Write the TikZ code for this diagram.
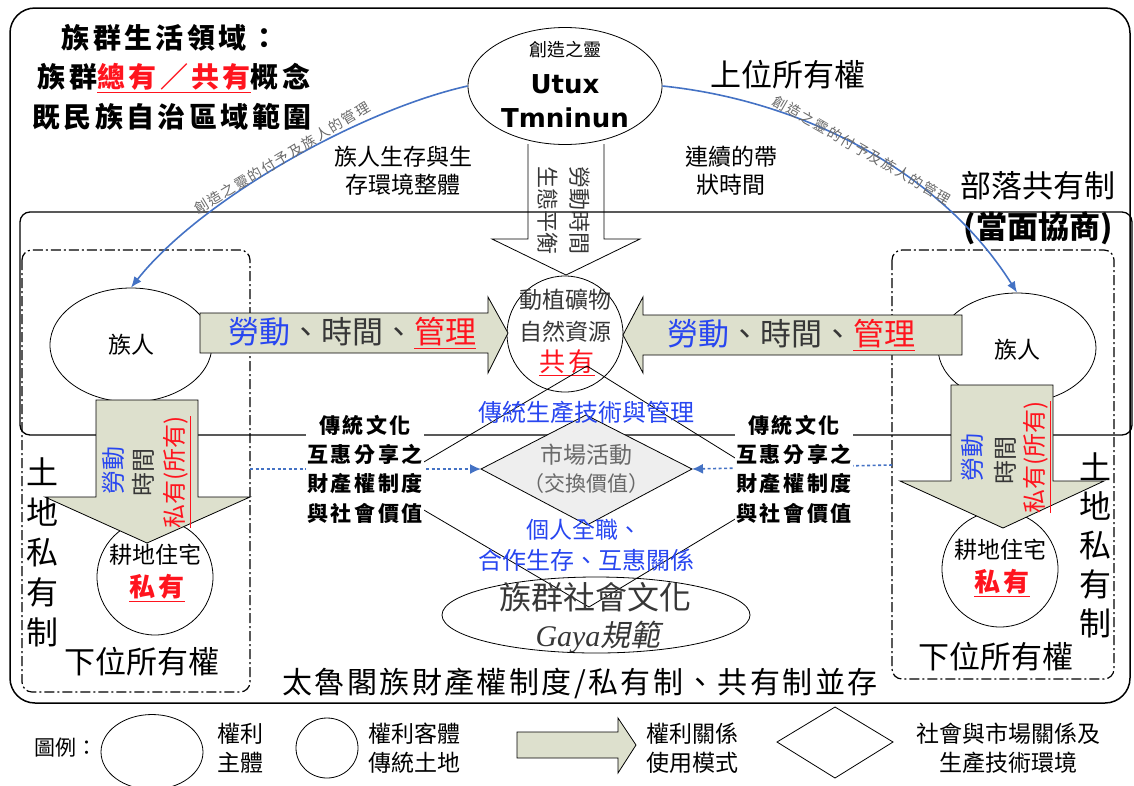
\documentclass[tikz,border=0pt]{standalone}
\usepackage{fontspec}
\setmainfont{Noto Sans CJK TC}
\newfontfamily\cjksp[LetterSpace=12]{Noto Sans CJK TC}
\newfontfamily\cjkspb[LetterSpace=8]{Noto Sans CJK TC}
\newfontfamily\cjksl[FakeSlant=0.2]{Noto Sans CJK TC}
\newfontfamily\dvs{DejaVu Sans}
\newfontfamily\lserif{Liberation Serif}
\usetikzlibrary{arrows.meta,shapes.geometric}
\definecolor{afill}{RGB}{221,224,205}
\definecolor{tblue}{RGB}{40,70,240}
\definecolor{tred}{RGB}{255,20,30}
\definecolor{arcblue}{RGB}{68,114,196}
\definecolor{lgray}{RGB}{105,105,105}
\definecolor{dgray}{RGB}{55,55,55}
\newcommand\fsz[2]{\fontsize{#1}{#2}\selectfont}
\tikzset{
  txt/.style={inner sep=0pt},
  blk/.style={fill=afill, draw=black, line width=0.8pt},
  ddbox/.style={dash pattern=on 10pt off 3pt on 2pt off 3pt, line width=1.2pt, rounded corners=10pt},
  ell/.style={draw, ellipse, inner sep=0pt, line width=0.8pt},
  circ/.style={draw, circle, inner sep=0pt, line width=0.8pt},
  arc/.style={arcblue, line width=1.6pt, -{Latex[length=11pt,width=9pt]}},
  dotarr/.style={arcblue, line width=1.6pt, dash pattern=on 3pt off 2.5pt, -{Latex[length=11pt,width=10pt]}},
  arclab/.style={lgray, inner sep=0pt, font=\cjksp\fsz{14}{16}},
  tblock/.style={fill=white, align=center, inner sep=1pt, font=\cjksp\bfseries\fsz{21}{29.3}},
  legtxt/.style={align=center, inner sep=0pt, font=\fsz{23}{29}}
}
\begin{document}
\begin{tikzpicture}[x=1pt,y=-1pt,line join=miter]
\useasboundingbox (0,0) rectangle (1134,785);
% frames
\draw[line width=1.5pt, rounded corners=25pt] (10,8) rectangle (1130,703);
\draw[line width=1.3pt, rounded corners=10pt] (20,212) rectangle (1132,435);
\draw[ddbox] (22,250) rectangle (250,692);
\draw[ddbox] (892,250) rectangle (1114,679);

% title
\node[txt, font=\cjksp\bfseries\fsz{28}{34}] (t1) at (170,38) {族群生活領域：};
\node[txt, font=\cjksp\bfseries\fsz{28}{34}] (t2) at (174,78) {族群\textcolor{tred}{\underline{總有／共有}}概念};
\node[txt, font=\cjksp\bfseries\fsz{28}{34}] (t3) at (172,117) {既民族自治區域範圍};

% top ellipse
\node[ell, minimum width=194pt, minimum height=117pt] (utux) at (565,86) {};
\node[txt, font=\fsz{18}{20}] (cz) at (565,50) {創造之靈};
\node[txt, font=\dvs\bfseries\fsz{26}{28}] (ut) at (565,84) {Utux};
\node[txt, font=\dvs\bfseries\fsz{26}{28}] (tm) at (565,118) {Tmninun};

\node[txt, font=\fsz{31}{34}] (sw) at (788,75) {上位所有權};
\node[txt, align=center, font=\fsz{23}{28}] (env) at (403,171) {族人生存與生\\存環境整體};
\node[txt, align=center, font=\fsz{23}{28}] (tim) at (731,171) {連續的帶\\狀時間};
\node[txt, font=\fsz{31}{34}] (bl1) at (1038,186) {部落共有制};
\node[txt, font=\bfseries\fsz{31}{34}] (bl2) at (1038,228) {(當面協商)};

% central down arrow
\draw[line width=0.8pt] (528,144) -- (528,239) -- (492,239) -- (566,275) -- (640,239) -- (604,239) -- (604,144);
\node[txt, dgray, rotate=-90, align=center, font=\fsz{22}{32}] (cat) at (564,210) {勞動時間\\生態平衡};

% resources circle
\node[circ, minimum size=116pt] (res) at (565,334) {};
\node[txt, dgray, font=\fsz{23}{26}] (r1) at (565,300) {動植礦物};
\node[txt, dgray, font=\fsz{23}{26}] (r2) at (565,332) {自然資源};
\node[txt, tred, font=\cjksp\fsz{26}{28}] (r3) at (567,363) {\underline{共有}};

% people ellipses
\node[ell, minimum width=162pt, minimum height=114pt] (zuL) at (131,345) {};
\node[txt, font=\fsz{23}{26}] at (131,345) {族人};
\node[ell, minimum width=158pt, minimum height=110pt] (zuR) at (1017,348) {};
\node[txt, font=\fsz{23}{26}] at (1017,350) {族人};

% farm circles
\node[circ, minimum size=116pt] (farmL) at (155,577) {};
\node[circ, minimum size=116pt] (farmR) at (1000,569) {};

% horizontal arrows
\draw[blk] (200,313) -- (488,313) -- (488,297) -- (508,333) -- (488,373) -- (488,353) -- (200,353) -- cycle;
\draw[blk] (962,315) -- (643,315) -- (643,297) -- (623,335) -- (643,373) -- (643,355) -- (962,355) -- cycle;
\node[txt, font=\fsz{31}{34}] (hl) at (352,333) {\textcolor{tblue}{勞動}\textcolor{dgray}{、時間、}\textcolor{tred}{\underline{管理}}};
\node[txt, font=\fsz{31}{34}] (hr) at (791,335) {\textcolor{tblue}{勞動}\textcolor{dgray}{、時間、}\textcolor{tred}{\underline{管理}}};

% down arrows
\draw[blk] (96,400) -- (198,400) -- (198,497) -- (250,497) -- (147,543) -- (45,497) -- (96,497) -- cycle;
\draw[blk] (951,385) -- (1053,385) -- (1053,481) -- (1104,481) -- (1003,528) -- (900,481) -- (951,481) -- cycle;
\node[txt, tblue, rotate=90, font=\fsz{24}{26}] at (113,470) {勞動};
\node[txt, dgray, rotate=90, font=\fsz{24}{26}] at (143,472) {時間};
\node[txt, tred, rotate=90, font=\fsz{24}{26}] at (177,472) {\underline{私有(所有)}};
\node[txt, tblue, rotate=90, font=\fsz{24}{26}] at (972,457) {勞動};
\node[txt, dgray, rotate=90, font=\fsz{24}{26}] at (1005,460) {時間};
\node[txt, tred, rotate=90, font=\fsz{24}{26}] at (1037,457) {\underline{私有(所有)}};

% farm texts
\node[txt, font=\fsz{23}{26}] at (155,555) {耕地住宅};
\node[txt, tred, font=\cjksp\bfseries\fsz{26}{28}] at (157,588) {\underline{私有}};
\node[txt, font=\fsz{23}{26}] at (1000,550) {耕地住宅};
\node[txt, tred, font=\cjksp\bfseries\fsz{26}{28}] at (1002,583) {\underline{私有}};

% land private
\node[txt, align=center, font=\fsz{32}{40}] (lpL) at (42,552) {土\\地\\私\\有\\制};
\node[txt, align=center, font=\fsz{32}{39}] (lpR) at (1095,545) {土\\地\\私\\有\\制};
\node[txt, font=\fsz{31}{34}] (lowL) at (142,662) {下位所有權};
\node[txt, font=\fsz{31}{34}] (lowR) at (996,657) {下位所有權};

% blue arcs
\draw[arc] (utux.west) .. controls (360,110) and (200,200) .. (zuL.north);
\draw[arc] (utux.east) .. controls (800,100) and (940,170) .. (zuR.north);
\node[arclab, rotate=31] (al) at (282,158) {創造之靈的付予及族人的管理};
\node[arclab, rotate=-30] (ar) at (862,150) {創造之靈的付予及族人的管理};

% diamonds
\coordinate (DT) at (587,366);
\coordinate (DR) at (785,489);
\coordinate (DB) at (589,607);
\coordinate (DL) at (383,486);
\draw[line width=0.8pt] (DT) -- (DR) -- (DB) -- (DL) -- cycle;
\coordinate (mT) at (586,415);
\coordinate (mR) at (692,469);
\coordinate (mB) at (587,525);
\coordinate (mL) at (481,469);
\draw[line width=0.8pt, fill=gray!13] (mT) -- (mR) -- (mB) -- (mL) -- cycle;
\node[ell, minimum width=308pt, minimum height=76pt] (gaya) at (596,615) {};

% dotted arrows
\coordinate (dL) at (250,469);
\coordinate (dR) at (892,465);
\draw[dotarr] (dL) -- (mL);
\draw[dotarr] (dR) -- (mR);

% central texts
\node[txt, tblue, font=\fsz{24}{26}] (ct1) at (586,412) {傳統生產技術與管理};
\node[txt, lgray, font=\fsz{23}{26}] (mk1) at (586,455) {市場活動};
\node[txt, lgray, font=\fsz{21}{24}] (mk2) at (586,484) {（交換價值）};
\node[txt, tblue, font=\fsz{23}{26}] (ct2) at (584,530) {個人全職、};
\node[txt, tblue, font=\fsz{24}{26}] (ct3) at (586,560) {合作生存、互惠關係};
\node[txt, dgray, font=\fsz{32}{34}] (g1) at (595,597) {族群社會文化};
\node[txt, dgray, font=\fsz{30}{32}] (g2) at (598,637) {\lserif\itshape Gaya\cjksl 規範};

\node[tblock] (tcL) at (365,469) {傳統文化\\互惠分享之\\財產權制度\\與社會價值};
\node[tblock] (tcR) at (794,469) {傳統文化\\互惠分享之\\財產權制度\\與社會價值};

\node[txt, font=\cjkspb\fsz{30}{32}] (bot) at (580,683) {太魯閣族財產權制度/私有制、共有制並存};

% legend
\node[txt, font=\fsz{21}{24}] (lg) at (66,748) {圖例：};
\node[ell, minimum width=102pt, minimum height=75pt] (lg1) at (152,752) {};
\node[legtxt] (lg1t) at (240,748) {權利\\主體};
\node[ell, minimum width=62pt, minimum height=60pt] (lg2) at (327,748) {};
\node[legtxt] (lg2t) at (414,748) {權利客體\\傳統土地};
\draw[blk] (517,732) -- (618,732) -- (618,718) -- (636,745) -- (618,773) -- (618,758) -- (517,758) -- cycle;
\node[legtxt] (lg3t) at (692,748) {權利關係\\使用模式};
\draw[line width=0.8pt] (835,707) -- (893,742) -- (835,778) -- (777,742) -- cycle;
\node[legtxt] (lg4t) at (1008,748) {社會與市場關係及\\生產技術環境};
\end{tikzpicture}
\end{document}
